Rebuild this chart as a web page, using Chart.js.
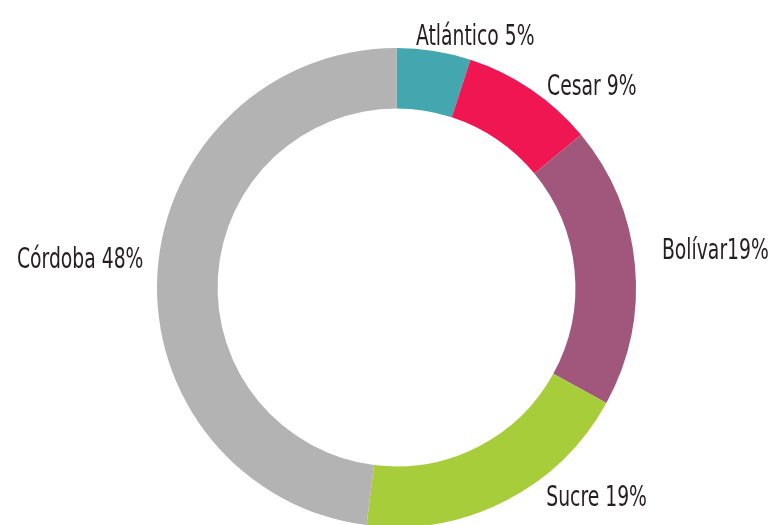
<!DOCTYPE html>
<html>
<head>
<meta charset="utf-8">
<script src="https://cdn.jsdelivr.net/npm/chart.js@4/dist/chart.umd.min.js"></script>
<style>
  html, body { margin: 0; padding: 0; background: #ffffff; overflow: hidden; }
  #wrap { position: relative; width: 774px; height: 527px; }
</style>
</head>
<body>
<div id="wrap"><canvas id="c"></canvas></div>
<script>
const categories = ['Atlántico', 'Cesar', 'Bolívar', 'Sucre', 'Córdoba'];
const values = [5, 9, 19, 19, 48];
const labelTexts = ['Atlántico 5%', 'Cesar 9%', 'Bolívar19%', 'Sucre 19%', 'Córdoba 48%'];
const colors = ['#44A6AF', '#EF1651', '#A0577B', '#A7CE3A', '#B3B3B3'];

// label nudges relative to the outer mid-point of each arc
const labelNudges = [[-18, -6], [16, 6], [27, -6], [41, 5], [-14, -4]];
const labelAlign = ['left', 'left', 'left', 'left', 'right'];

const labelPlugin = {
  id: 'outerLabels',
  afterDraw(chart) {
    const ctx = chart.ctx;
    const meta = chart.getDatasetMeta(0);
    ctx.save();
    ctx.fillStyle = '#231F20';
    ctx.font = '29px "Liberation Sans Narrow", "DejaVu Sans Condensed", "Roboto Condensed", sans-serif';
    ctx.textBaseline = 'alphabetic';
    meta.data.forEach((arc, i) => {
      const p = arc.getProps(['x', 'y', 'startAngle', 'endAngle', 'outerRadius'], true);
      const mid = (p.startAngle + p.endAngle) / 2;
      const ax = p.x + Math.cos(mid) * p.outerRadius + labelNudges[i][0];
      const ay = p.y + Math.sin(mid) * p.outerRadius + labelNudges[i][1];
      const sx = 0.72;
      ctx.save();
      ctx.translate(ax, ay);
      ctx.scale(sx, 1);
      ctx.textAlign = labelAlign[i];
      ctx.fillText(labelTexts[i], 0, 0);
      ctx.restore();
    });
    ctx.restore();
  }
};

new Chart(document.getElementById('c'), {
  type: 'doughnut',
  data: {
    labels: categories,
    datasets: [{
      data: values,
      backgroundColor: colors,
      borderWidth: 0,
      hoverOffset: 0
    }]
  },
  options: {
    responsive: true,
    maintainAspectRatio: false,
    animation: false,
    cutout: '74.7%',
    layout: { padding: { top: 48, bottom: 0, left: 19, right: 0 } },
    plugins: {
      legend: { display: false },
      tooltip: { enabled: false }
    }
  },
  plugins: [labelPlugin]
});
</script>
</body>
</html>
